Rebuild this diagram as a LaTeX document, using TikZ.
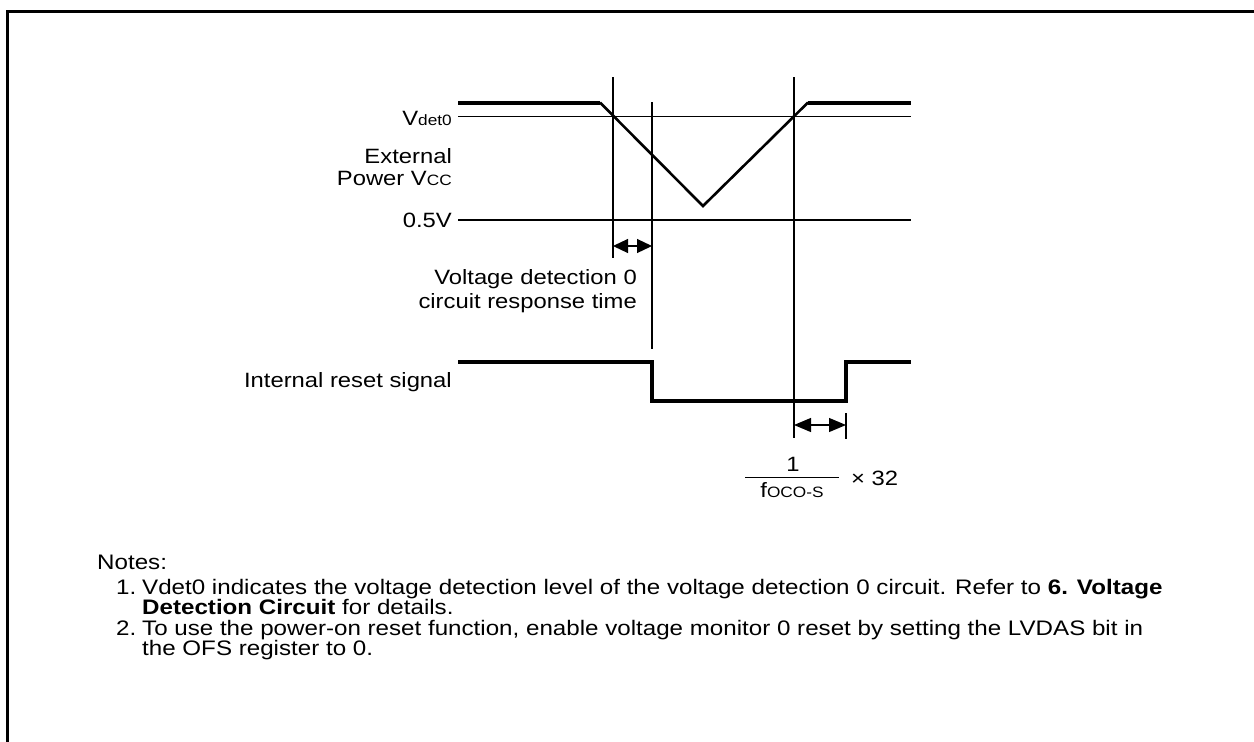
\documentclass[tikz,border=0pt]{standalone}
\usepackage{fontspec}
\setmainfont{Liberation Sans}[FakeStretch=1.15]
\usetikzlibrary{arrows.meta}
\newcommand{\lbl}{\fontsize{20.7}{21.5}\selectfont}
\newcommand{\ntxt}{\fontsize{21}{22}\selectfont}
\newcommand{\sml}{\fontsize{15}{17}\selectfont}
\tikzset{
  thinl/.style={line width=1.3pt},
  thickl/.style={line width=4pt},
  slopel/.style={line width=2.6pt, line join=miter},
  lab/.style={inner sep=0pt, font=\lbl},
  dimarrA/.style={line width=1.2pt, {Triangle[length=15pt,width=14pt]}-{Triangle[length=15pt,width=14pt]}},
  dimarrB/.style={line width=1.2pt, {Triangle[length=17pt,width=14pt]}-{Triangle[length=17pt,width=14pt]}},
}
\begin{document}
\begin{tikzpicture}[x=1pt,y=-1pt]
\useasboundingbox (0,0) rectangle (1254,742);
% frame
\draw[line width=3pt] (7,742) -- (7,11) -- (1254,11);
% Vcc waveform
\coordinate (vA) at (458,102.5);
\coordinate (vB) at (600,102.5);
\coordinate (vC) at (703,206);
\coordinate (vD) at (808,102.5);
\coordinate (vE) at (911,102.5);
\draw[thickl] (vA) -- (vB);
\draw[slopel] (vB) -- (vC) -- (vD);
\draw[thickl] (vD) -- (vE);
% levels
\coordinate (dL) at (458,116.5);
\coordinate (dR) at (911,116.5);
\draw[thinl] (dL) -- (dR);
\coordinate (hL) at (458,220);
\coordinate (hR) at (911,220);
\draw[thinl] (hL) -- (hR);
% vertical markers
\coordinate (m1t) at (613,77);
\coordinate (m1b) at (613,258);
\coordinate (m2t) at (652,102);
\coordinate (m2b) at (652,349);
\coordinate (m3t) at (794,77);
\coordinate (m3b) at (794,438);
\draw[thinl] (m1t) -- (m1b);
\draw[thinl] (m2t) -- (m2b);
\draw[thinl] (m3t) -- (m3b);
% response time arrow
\coordinate (a1l) at (613,246);
\coordinate (a1r) at (652,246);
\draw[dimarrA] (a1l) -- (a1r);
% reset signal
\coordinate (r1) at (458,362);
\coordinate (r2) at (652,362);
\coordinate (r3) at (652,400.5);
\coordinate (r4) at (846,400.5);
\coordinate (r5) at (846,362);
\coordinate (r6) at (911,362);
\draw[thickl, line join=miter] (r1) -- (r2) -- (r3) -- (r4) -- (r5) -- (r6);
% 32 cycles arrow
\coordinate (t4t) at (846,413);
\coordinate (t4b) at (846,439);
\draw[thinl] (t4t) -- (t4b);
\coordinate (a2l) at (794,425);
\coordinate (a2r) at (846,425);
\draw[dimarrB] (a2l) -- (a2r);
% labels
\node[lab, anchor=east] (lvdet) at (452,118) {V{\sml det0}};
\node[lab, anchor=east, align=right] (lext) at (452,167) {External\\[1pt]Power V{\sml CC}};
\node[lab, anchor=east] (lhalf) at (452,220) {0.5V};
\node[lab, anchor=east, align=right] (lresp) at (637,291) {Voltage detection 0\\[3pt]circuit response time};
\node[lab, anchor=east] (lrst) at (452,382) {Internal reset signal};
% fraction
\node[lab] (fone) at (793,464) {1};
\coordinate (fbl) at (745,477.5);
\coordinate (fbr) at (839,477.5);
\draw[line width=1pt] (fbl) -- (fbr);
\node[lab] (fden) at (792,490) {f{\sml OCO-S}};
\node[lab, anchor=west] (ftimes) at (851,478) {× 32};
% notes
\begin{scope}[every node/.style={inner sep=0pt, font=\ntxt, anchor=base west}]
\node (n0) at (97,569) {Notes:};
\node (n1) at (116,594) {1.};
\node (n1a) at (142,594) {Vdet0 indicates the voltage detection level of the voltage detection 0 circuit. Refer to \textbf{6. Voltage}};
\node (n1b) at (142,614) {\textbf{Detection Circuit} for details.};
\node (n2) at (116,635) {2.};
\node (n2a) at (142,635) {To use the power-on reset function, enable voltage monitor 0 reset by setting the LVDAS bit in};
\node (n2b) at (142,655) {the OFS register to 0.};
\end{scope}
\end{tikzpicture}
\end{document}
